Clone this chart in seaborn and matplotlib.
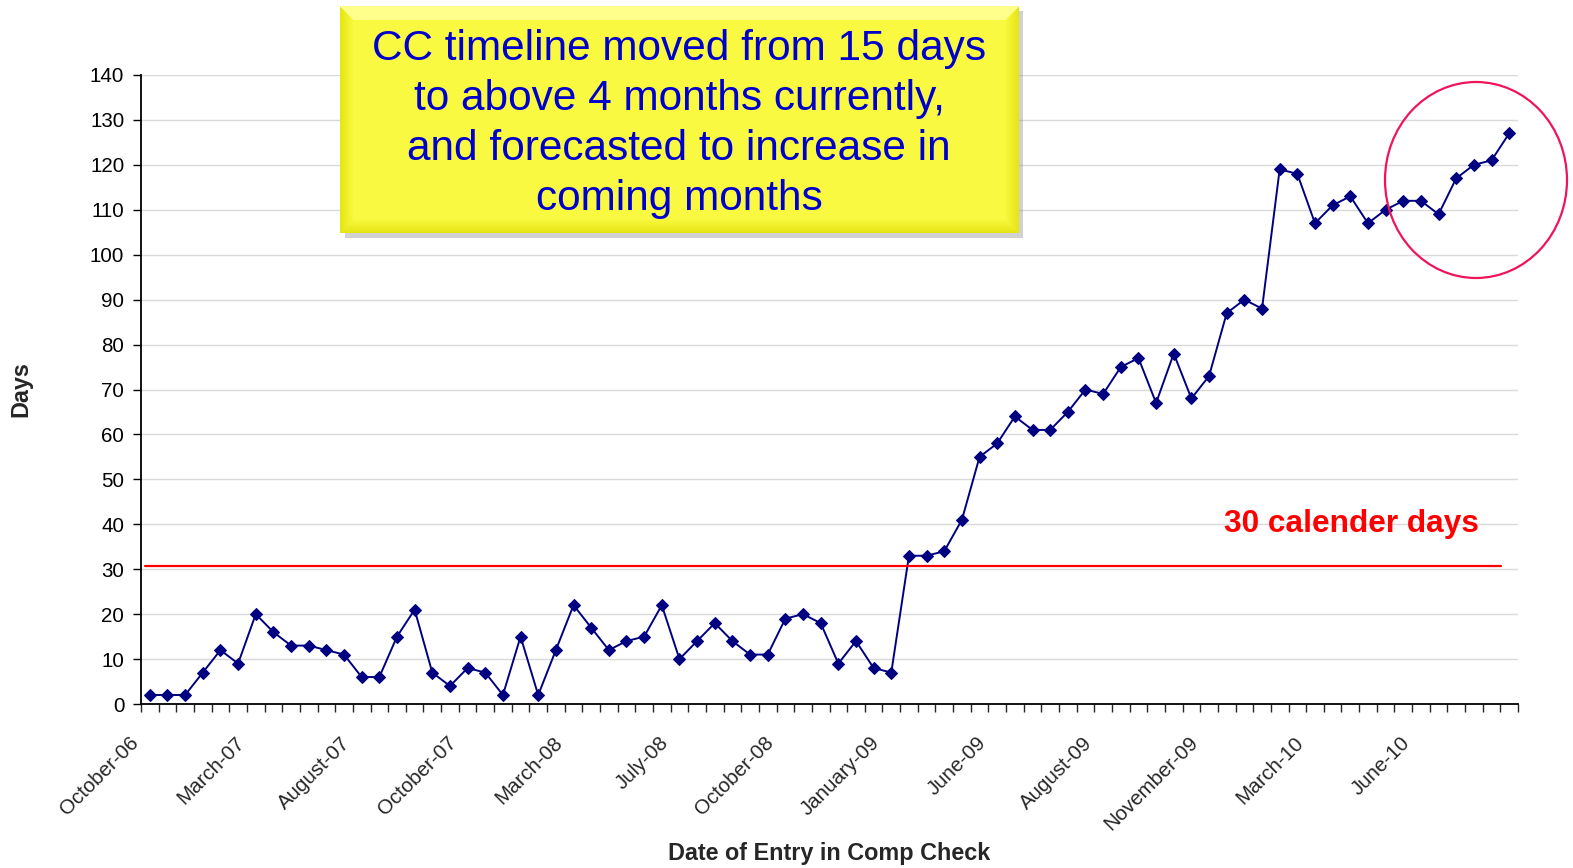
import numpy as np
import pandas as pd
import matplotlib
matplotlib.use('Agg')
import matplotlib.pyplot as plt
import matplotlib.transforms as mtransforms
from matplotlib.patches import Ellipse, Rectangle
import seaborn as sns

# Dados (dias até entrada no Comp Check, um ponto por categoria)
dias = [2, 2, 2, 7, 12, 9, 20, 16, 13, 13, 12, 11, 6, 6, 15, 21, 7, 4, 8, 7, 2, 15, 2,
        12, 22, 17, 12, 14, 15, 22, 10, 14, 18, 14, 11, 11, 19, 20, 18, 9, 14, 8, 7,
        33, 33, 34, 41, 55, 58, 64, 61, 61, 65, 70, 69, 75, 77, 67, 78, 68, 73, 87, 90, 88,
        119, 118, 107, 111, 113, 107, 110, 112, 112, 109, 117, 120, 121, 127]
rotulos = ['October-06', 'March-07', 'August-07', 'October-07', 'March-08', 'July-08',
           'October-08', 'January-09', 'June-09', 'August-09', 'November-09', 'March-10', 'June-10']
passo_rotulo = 6
limite = 30.7
texto_caixa = 'CC timeline moved from 15 days\nto above 4 months currently,\nand forecasted to increase in\ncoming months'

df = pd.DataFrame({'pos': np.arange(len(dias)), 'Days': dias})

sns.set_style('white')
plt.rcParams['font.family'] = ['Liberation Sans', 'DejaVu Sans']

W, H = 1573, 868
fig = plt.figure(figsize=(W / 100, H / 100), dpi=100)
ax = fig.add_axes([141 / W, 1 - 704 / H, 1377 / W, 629 / H])

ax.yaxis.grid(True, color='#d9d9d9', lw=1)
ax.set_axisbelow(True)
sns.lineplot(data=df, x='pos', y='Days', ax=ax, color='#000080', lw=1.4,
             marker='D', markersize=6.3, markeredgecolor='#000080')

ax.axhline(limite, xmin=0.003, xmax=0.988, color='#ff0000', lw=1.6)
ax.text(68.05, 40.1, '30 calender days', color='#ff0000', fontsize=22.8,
        fontweight='bold', ha='center', va='center')

ax.set_xlim(-0.5, len(dias) - 0.5)
ax.set_ylim(0, 140)
ax.set_yticks(np.arange(0, 141, 10))
ax.tick_params(axis='y', direction='out', length=6, width=1, pad=6,
               labelsize=14.8, left=True, colors='black')

pos_rot = np.arange(0, passo_rotulo * len(rotulos), passo_rotulo)
ax.set_xticks(pos_rot)
ax.set_xticklabels(rotulos, rotation=45, ha='right', va='top', rotation_mode='anchor')
ax.set_xticks(np.arange(-0.5, len(dias), 1), minor=True)
ax.tick_params(axis='x', which='major', length=0, pad=21, labelsize=14.8)
ax.tick_params(axis='x', which='minor', direction='out', length=6, width=1, bottom=True)
offset = mtransforms.ScaledTranslation(-21 / 100, 0, fig.dpi_scale_trans)
for lab in ax.get_xticklabels():
    lab.set_transform(lab.get_transform() + offset)

for s in ['top', 'right']:
    ax.spines[s].set_visible(False)
for s in ['left', 'bottom']:
    ax.spines[s].set_color('black')
    ax.spines[s].set_linewidth(1.3)

ax.set_xlabel('Date of Entry in Comp Check', fontsize=16.8, fontweight='bold')
ax.set_ylabel('Days', fontsize=16.8, fontweight='bold')
ax.xaxis.set_label_coords(0.5, -0.220)
ax.yaxis.set_label_coords(-0.079, 0.5)

# caixa amarela com bisel e sombra
bx0, by0, bw, bh = 340, 6, 678, 227
fig.patches.append(Rectangle(((bx0 + 5) / W, 1 - (by0 + bh + 5) / H), bw / W, bh / H,
                             transform=fig.transFigure, facecolor='#9a9a9a', alpha=0.45,
                             edgecolor='none', zorder=5))
bax = fig.add_axes([bx0 / W, 1 - (by0 + bh) / H, bw / W, bh / H], zorder=6)
yy, xx = np.mgrid[0:bh, 0:bw]
d = np.minimum.reduce([xx, bw - 1 - xx, yy, bh - 1 - yy]).astype(float)
bev = np.clip(d / 14, 0, 1)[..., None]
base = np.array([0.98, 0.98, 0.26])
borda = np.array([0.90, 0.90, 0.08])
img = borda + (base - borda) * bev
topo = (yy < 14) & (yy <= xx) & (yy <= bw - 1 - xx)
img[topo] = [1.0, 1.0, 0.55]
bax.imshow(img, aspect='auto', interpolation='bilinear')
bax.set_axis_off()
bax.text(0.5, 0.479, texto_caixa, transform=bax.transAxes, ha='center', va='center',
         fontsize=30.5, color='#0000cc', linespacing=1.32)

# círculo destacando os últimos meses
fig.patches.append(Ellipse((1476 / W, 1 - 180 / H), 182 / W, 196 / H,
                           transform=fig.transFigure, facecolor='none',
                           edgecolor='#f0145a', lw=1.6, zorder=7))

fig.savefig('out.png', dpi=100)
